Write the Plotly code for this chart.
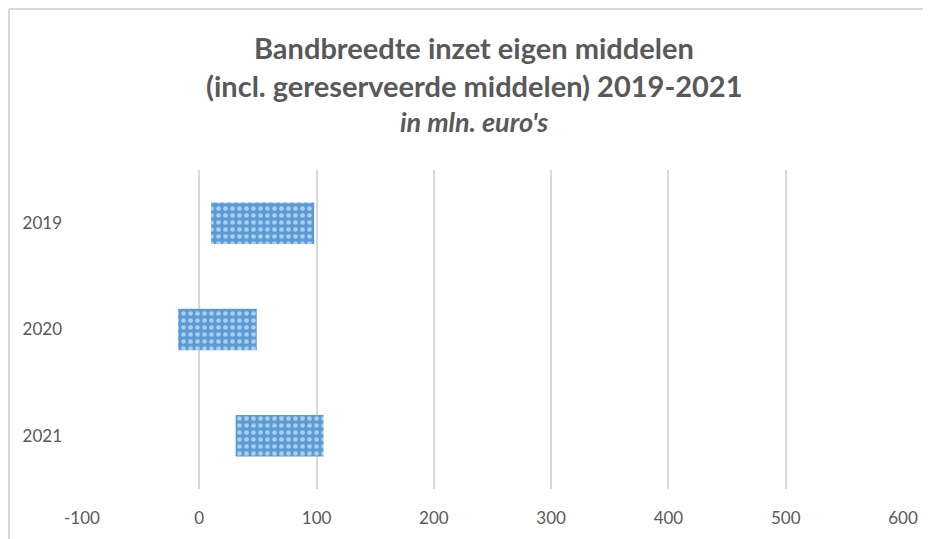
import plotly.graph_objects as go

years = ["2019", "2020", "2021"]
low = [10, -18, 31]
high = [98, 49, 106]
x_ticks = [-100, 0, 100, 200, 300, 400, 500, 600]
x_tick_labels = ["-100", "0", "100", "200", "300", "400", "500", "600"]
title_lines = ["Bandbreedte inzet eigen middelen",
               "(incl. gereserveerde middelen) 2019-2021",
               "in mln. euro's"]

widths = [h - l for h, l in zip(high, low)]

fig = go.Figure()
fig.add_trace(go.Bar(
    y=years, x=widths, base=low, orientation="h",
    marker=dict(color="#5B9BD5", line=dict(width=0),
                pattern=dict(shape=".", fillmode="overlay", fgcolor="white",
                             size=7, solidity=0.35)),
    hoverinfo="skip",
))

# The page body has an 8px margin, so the figure starts at (8, 8) on screen.
OFF = 8
W, H = 931 - OFF, 539 - OFF
L, R, T, B = 82 - OFF, 28, 170 - OFF, 50
ph = H - T - B
pw = W - L - R

def py(ypx):
    return (H - B - (ypx - OFF)) / ph

def px(xpx):
    return ((xpx - OFF) - L) / pw

font_family = "Lato, Open Sans, sans-serif"
fig.update_layout(
    width=W, height=H,
    margin=dict(l=L, r=R, t=T, b=B),
    paper_bgcolor="white", plot_bgcolor="white",
    showlegend=False, bargap=0.61,
    font=dict(family=font_family, color="#595959"),
    xaxis=dict(range=[-100, 600], tickvals=x_ticks, ticktext=x_tick_labels,
               showgrid=True, gridcolor="#D9D9D9", gridwidth=1.5, zeroline=False,
               showline=False, ticks="", tickfont=dict(size=17, color="#595959"),
               ticklabelstandoff=17, fixedrange=True),
    yaxis=dict(autorange="reversed", showgrid=False, zeroline=False,
               showline=False, ticks="", tickfont=dict(size=17, color="#595959"),
               ticklabelstandoff=19, fixedrange=True),
)

ys = [47, 85, 121]
sizes = [29, 29, 27]
for i, (t, yy, sz) in enumerate(zip(title_lines, ys, sizes)):
    txt = f"<b>{t}</b>" if i < 2 else f"<b><i>{t}</i></b>"
    fig.add_annotation(text=txt, xref="paper", yref="paper",
                       x=px(474), y=py(yy), xanchor="center", yanchor="middle",
                       showarrow=False,
                       font=dict(size=sz, color="#595959", family=font_family))

# chart frame (top and left edges visible)
fig.add_shape(type="line", xref="paper", yref="paper",
              x0=px(9), x1=px(935), y0=py(9), y1=py(9),
              line=dict(color="#D9D9D9", width=2))
fig.add_shape(type="line", xref="paper", yref="paper",
              x0=px(9), x1=px(9), y0=py(9), y1=py(545),
              line=dict(color="#D9D9D9", width=2))

fig.write_html("out.html")
